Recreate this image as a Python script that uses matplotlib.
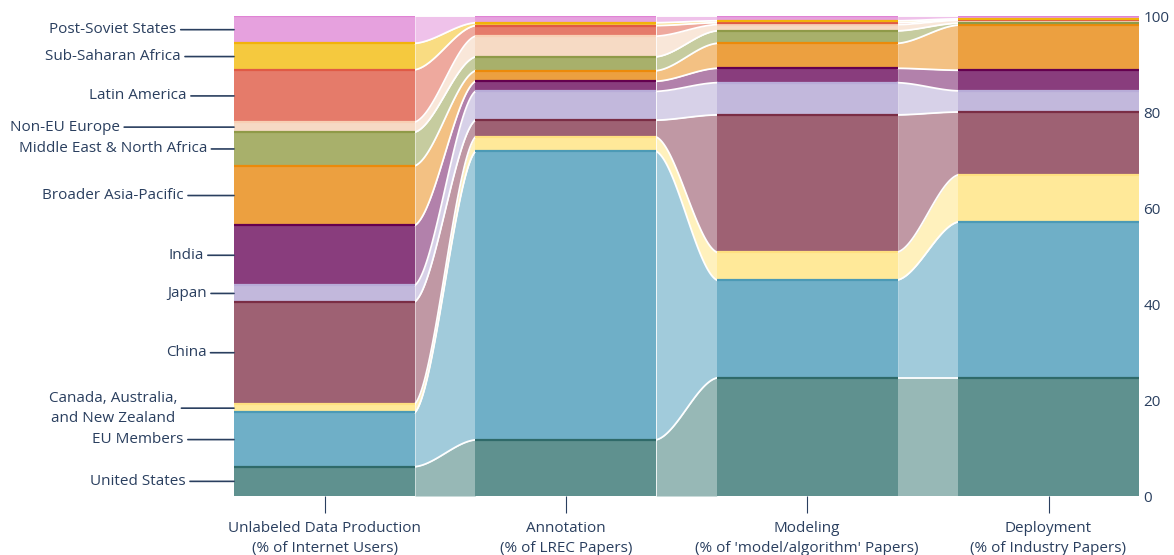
import numpy as np
import matplotlib.pyplot as plt

plt.rcParams['font.family'] = ['Open Sans', 'DejaVu Sans']

stages = ["Unlabeled Data Production\n(% of Internet Users)",
          "Annotation\n(% of LREC Papers)",
          "Modeling\n(% of 'model/algorithm' Papers)",
          "Deployment\n(% of Industry Papers)"]

regions = ["United States", "EU Members", "Canada, Australia,\nand New Zealand",
           "China", "Japan", "India", "Broader Asia-Pacific",
           "Middle East & North Africa", "Non-EU Europe", "Latin America",
           "Sub-Saharan Africa", "Post-Soviet States"]

# share per stage, bottom to top of the stack
us = [6.1, 11.7, 24.6, 24.6]
eu = [11.3, 60.1, 20.4, 32.5]
canada_aus_nz = [1.8, 3.0, 5.8, 9.8]
china = [21.3, 3.5, 28.6, 13.1]
japan = [3.4, 6.0, 6.7, 4.4]
india = [12.5, 2.1, 3.0, 4.3]
asia_pacific = [12.4, 2.2, 5.2, 9.4]
mena = [7.0, 2.9, 2.6, 0.4]
non_eu = [2.1, 4.3, 1.3, 0.6]
latin_america = [10.9, 2.2, 0.4, 0.1]
ssa = [5.5, 0.6, 0.4, 0.2]
post_soviet = [5.7, 1.4, 1.0, 0.6]

values = np.array([us, eu, canada_aus_nz, china, japan, india, asia_pacific,
                   mena, non_eu, latin_america, ssa, post_soviet])

fills = ['#5f918f', '#6fafc7', '#ffe999', '#9e6173', '#c2b8dc', '#893d7d',
         '#eca040', '#a8b06b', '#f6dac4', '#e57b6a', '#f5c93e', '#e6a1de']
edges = ['#2f6a69', '#4c9ab5', '#ffe080', '#7a2d45', '#b8acd8', '#64004f',
         '#ec8a0a', '#8f9a48', '#f8d0b4', '#e05a45', '#f2b20a', '#e083d4']

# label text centres, pixels left of the first bar
label_dx = [-96, -96, -121, -48, -47, -48, -121, -121, -169, -96, -121, -121]

txt = '#2a3f5f'
w = 0.75

fig = plt.figure(figsize=(11.74, 5.55), dpi=100)
ax = fig.add_axes([234 / 1174, 59 / 555, 905 / 1174, 480 / 555])

tops = np.cumsum(values, axis=0)
bottoms = tops - values
x = np.arange(len(stages))


def blend(c, a=0.65):
    rgb = np.array([int(c[i:i + 2], 16) for i in (1, 3, 5)]) / 255
    return tuple(a * rgb + (1 - a))


# flows between the columns
t = np.linspace(0, 1, 60)
s = -1.5 * t ** 3 + 2.25 * t ** 2 + 0.25 * t
for g in range(len(stages) - 1):
    xs = g + w / 2 + t * (1 - w)
    for k in range(len(regions)):
        lo = bottoms[k, g] + (bottoms[k, g + 1] - bottoms[k, g]) * s
        hi = tops[k, g] + (tops[k, g + 1] - tops[k, g]) * s
        ax.fill_between(xs, lo, hi, color=blend(fills[k]), lw=0)
        ax.plot(xs, hi, color='white', lw=1.3)

# stacked bars
for k in range(len(regions)):
    ax.bar(x, values[k], bottom=bottoms[k], width=w, color=fills[k], lw=0)
    ax.hlines(tops[k], x - w / 2, x + w / 2, color=edges[k], lw=1.6)

# region labels with leader lines
for k, name in enumerate(regions):
    ymid = bottoms[k, 0] + values[k, 0] / 2
    ax.annotate(name, xy=(-w / 2, ymid), xytext=(label_dx[k], 0),
                textcoords='offset pixels', ha='center', va='center',
                fontsize=11, color=txt, linespacing=1.45,
                arrowprops=dict(arrowstyle='-', color=txt, lw=1.2,
                                shrinkA=1, shrinkB=0))

ax.set_xlim(-w / 2, len(stages) - 1 + w / 2)
ax.set_ylim(0, 100)
ax.set_xticks(x)
ax.set_xticklabels(stages, fontsize=11, color=txt, linespacing=1.45)
ax.tick_params(axis='x', length=12, color=txt, pad=6)
ax.yaxis.tick_right()
ax.set_yticks([0, 20, 40, 60, 80, 100])
ax.tick_params(axis='y', length=0, pad=3, labelsize=11, labelcolor=txt)
for sp in ax.spines.values():
    sp.set_visible(False)

fig.savefig('out.png', dpi=100)
